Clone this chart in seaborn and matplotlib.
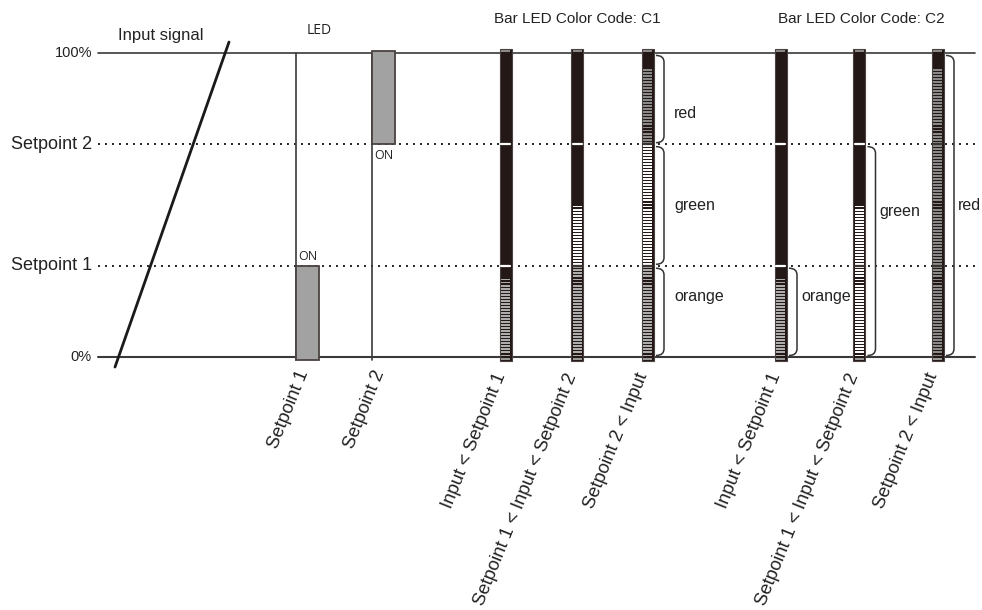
import numpy as np
import matplotlib
matplotlib.use("Agg")
import matplotlib.pyplot as plt
import seaborn as sns
from matplotlib.path import Path
from matplotlib.patches import PathPatch, Rectangle

# --- data ---
levels = [0, 30, 70, 100]
level_labels = ["0%", "Setpoint 1", "Setpoint 2", "100%"]
signal_pct = [-3.3, 103.6]

led_labels = ["Setpoint 1", "Setpoint 2"]
led_on_from = [0, 70]
led_on_to = [30, 100]

code_names = ["Bar LED Color Code: C1", "Bar LED Color Code: C2"]
conditions = ["Input < Setpoint 1", "Setpoint 1 < Input < Setpoint 2", "Setpoint 2 < Input"]
input_levels = [26, 50, 95]
zone_names = ["orange", "green", "red"]
zone_from = [0, 30, 70]
zone_to = [30, 70, 100]

# --- layout (pixel-like x units, y in %) ---
sns.set_style("white")
plt.rcParams["font.family"] = ["Liberation Sans", "DejaVu Sans"]

PX = 3.04  # pixels per percent
def ypx(p):
    return (357 - p) / PX

x_left, x_right = 98, 975
signal_x = [115, 229]
led_x = [296, 372]
led_w = 23
bar_x = [[506, 577.5, 648], [781, 859.5, 938]]
bar_w = 12
code_cx = [577, 861]
c1_label_y = [20, 50, 80]
c2_label_y = [20, 47.7, 50]

zone_fill = {"orange": "#adadad", "green": "#fbfbfb", "red": "#8a8a8a"}
unlit = "#231815"
sep = "#3b3431"
line_col = "#3a3a3a"
txt_col = "#222222"

fig = plt.figure(figsize=(9.82, 6.10), dpi=100)
ax = fig.add_axes([0, 0, 1, 1])
ax.set_xlim(0, 982)
ax.set_ylim(ypx(610), ypx(0))
ax.axis("off")

# reference lines
for lv, lab in zip(levels, level_labels):
    if lv in (0, 100):
        ax.plot([x_left, x_right], [lv, lv], color=line_col, lw=1.2 if lv == 100 else 1.5, zorder=1)
    else:
        ax.plot([x_left, x_right], [lv, lv], color="#222222", lw=1.4,
                linestyle=(0, (1, 2.6)), zorder=1)
    big = lab.startswith("Setpoint")
    ax.text(92, lv, lab, ha="right", va="center", fontsize=13 if big else 10.5, color=txt_col)

# input signal
sns.lineplot(x=signal_x, y=signal_pct, color="#1a1a1a", lw=2, ax=ax, sort=False)
ax.text(118, ypx(35), "Input signal", fontsize=12, ha="left", va="center", color=txt_col)

# LEDs
ax.text(319, ypx(30), "LED", fontsize=10, ha="center", va="center", family="Open Sans", color=txt_col)
for i, (lx, lab) in enumerate(zip(led_x, led_labels)):
    ax.plot([lx, lx], [100, -1], color=line_col, lw=1.2, zorder=2)
    lo, hi = led_on_from[i], led_on_to[i]
    lo = lo - 1 if lo == 0 else lo
    hi = hi + 0.8 if hi == 100 else hi
    ax.bar(lx + led_w / 2, hi - lo, bottom=lo, width=led_w, color="#a2a2a2",
           edgecolor="#4a4240", linewidth=1.3, zorder=3)
    if i == 0:
        ax.text(lx + 2, led_on_to[i] + 1, "ON", fontsize=9, family="Open Sans", ha="left", va="bottom")
    else:
        ax.text(lx + 2, led_on_from[i] - 1.5, "ON", fontsize=9, family="Open Sans", ha="left", va="top")
    ax.text(lx + led_w / 2 - 3, -4.5, lab, rotation=68, rotation_mode="anchor",
            ha="right", va="center", fontsize=13.3, color=txt_col)


def zone_of(v):
    for name, a, b in zip(zone_names, zone_from, zone_to):
        if a <= v < b:
            return name
    return zone_names[-1]


def brace(x0, lo, hi, w=8, r=2.2):
    verts = [(x0, hi), (x0 + w, hi), (x0 + w, hi - r),
             (x0 + w, lo + r), (x0 + w, lo), (x0, lo)]
    codes = [Path.MOVETO, Path.CURVE3, Path.CURVE3, Path.LINETO, Path.CURVE3, Path.CURVE3]
    ax.add_patch(PathPatch(Path(verts, codes), fill=False, edgecolor="#333333", lw=1.1, zorder=4))


segs = np.arange(0, 100)
for c, name in enumerate(code_names):
    ax.text(code_cx[c], ypx(19), name, fontsize=11, ha="center", va="center", color=txt_col)
    for j, inp in enumerate(input_levels):
        cx = bar_x[c][j]
        # bar body
        ax.add_patch(Rectangle((cx - bar_w / 2, -1.2), bar_w, 102.4, facecolor=unlit,
                               edgecolor="#4a4240", lw=0.8, zorder=3))
        lit = segs[segs < inp]
        if c == 0:
            cols = [zone_fill[zone_of(s)] for s in lit]
        else:
            cols = [zone_fill[zone_of(inp)]] * len(lit)
        ax.bar([cx] * len(lit), [0.62] * len(lit), bottom=lit + 0.19, width=bar_w - 3,
               color=cols, linewidth=0, zorder=4)
        # caps
        ax.bar(cx, 0.5, bottom=100.4, width=bar_w - 3, color="#8a8a8a", linewidth=0, zorder=4)
        ax.bar(cx, 0.6, bottom=-1.0, width=bar_w - 3, color="#9a9a9a", linewidth=0, zorder=4)
        # setpoint separators
        for lv in levels[1:3]:
            colr = "white" if lv >= inp else sep
            ax.plot([cx - bar_w / 2 + 1.5, cx + bar_w / 2 - 1.5], [lv, lv], color=colr, lw=1.6, zorder=5)
        ax.text(cx - 5, -5.5, conditions[j], rotation=68, rotation_mode="anchor",
                ha="right", va="center", fontsize=13.3, color=txt_col)

# braces: C1 third column, three zones
bx = bar_x[0][2] + bar_w / 2 + 2
for k, (name, a, b) in enumerate(zip(zone_names, zone_from, zone_to)):
    brace(bx, a + 0.5, b - 0.8)
    ax.text(bx + 18, c1_label_y[k], name, fontsize=11.5, ha="left", va="center", color=txt_col)

# braces: C2, one per column covering 0..zone top
for j, inp in enumerate(input_levels):
    z = zone_of(inp)
    k = zone_names.index(z)
    bx = bar_x[1][j] + bar_w / 2 + 2
    brace(bx, 0.5, zone_to[k] - 0.8)
    ax.text(bx + 12, c2_label_y[j], z, fontsize=11.5, ha="left", va="center", color=txt_col)

fig.savefig("out.png", dpi=100)
